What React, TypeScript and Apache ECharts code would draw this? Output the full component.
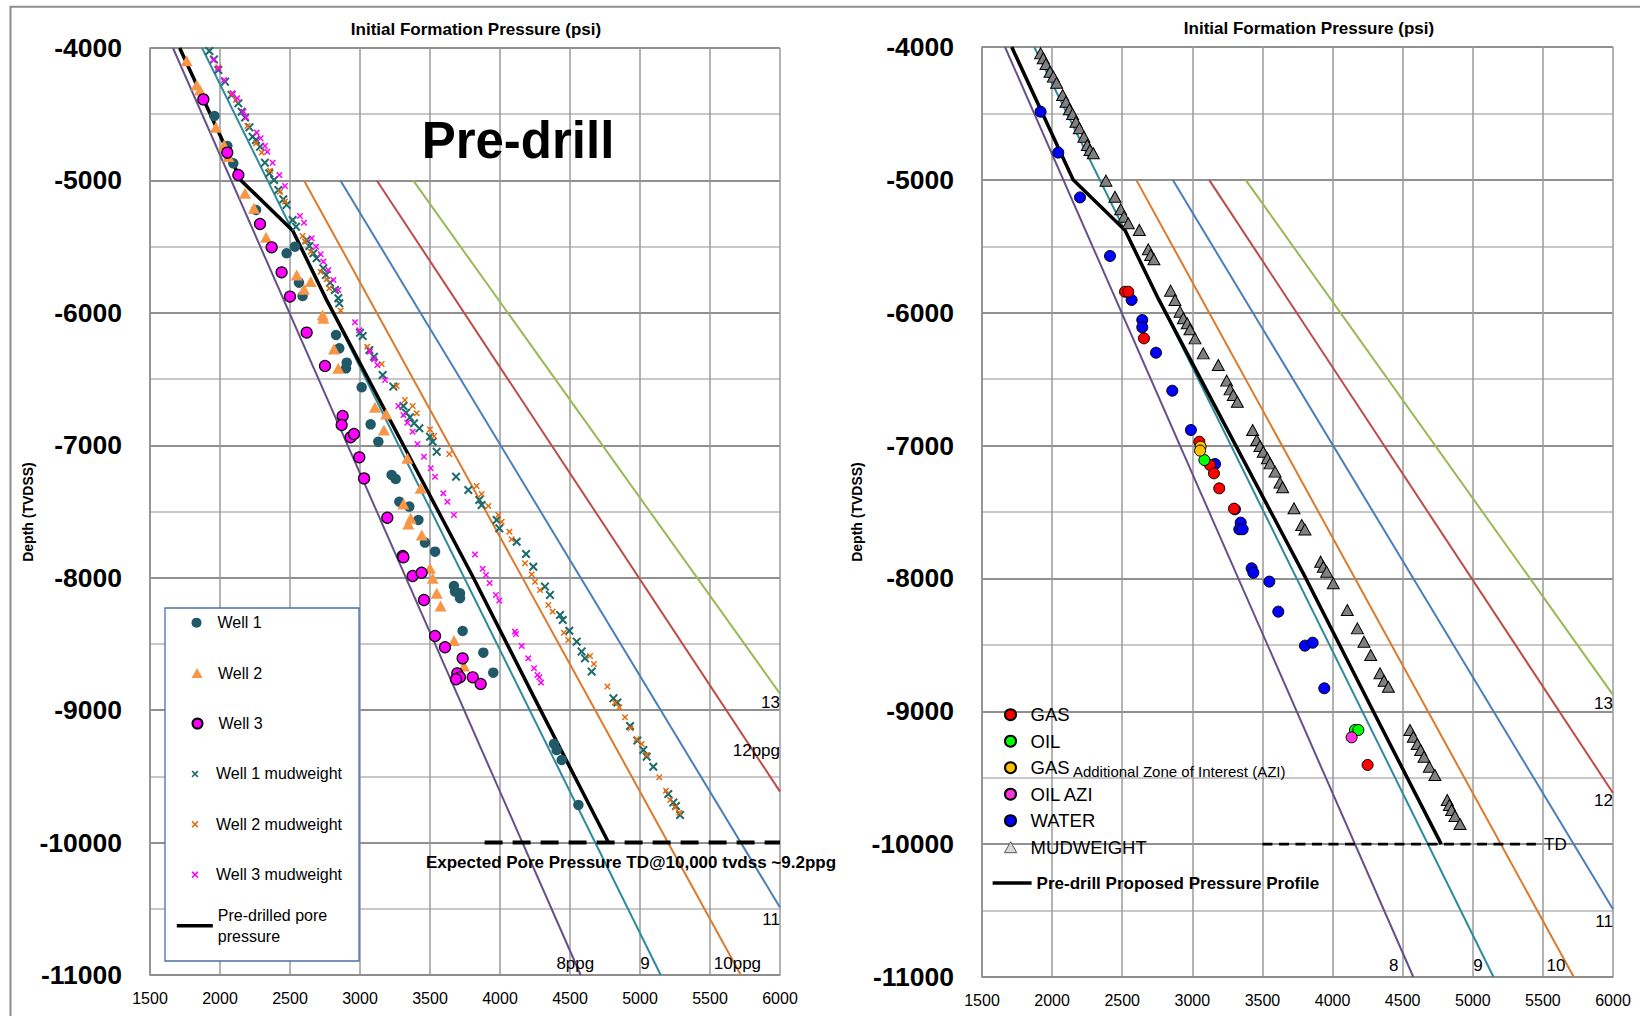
import React, { useEffect, useRef } from "react";
import * as echarts from "echarts";

const FONT = '"Liberation Sans", Arial, sans-serif';

// ---------- gradient reference lines (psi, depth) ----------
const PPG_8 = [[1664, -4000], [4576, -11000]];
const PPG_9 = [[1872, -4000], [5148, -11000]];
const PPG_10 = [[2600, -5000], [5720, -11000]];
const PPG_11 = [[2860, -5000], [6000, -10490]];
const PPG_12 = [[3120, -5000], [6000, -9615]];
const PPG_13 = [[3380, -5000], [6000, -8876]];
const PPG_SERIES = [PPG_8, PPG_9, PPG_10, PPG_11, PPG_12, PPG_13];
const PPG_COLORS = ["#66508A", "#2F8A9C", "#DB7A2C", "#4A7EBB", "#BE4B48", "#98B954"];

const LEFT_LINE_LABELS = ["13", "12ppg", "11", "8ppg", "9", "10ppg"];
const LEFT_LINE_LABEL_AT = [[6000, -8946], [6000, -9301], [6000, -10584], [4538, -10912], [5035, -10912], [5696, -10912]];
const RIGHT_LINE_LABELS = ["13", "12", "11", "8", "9", "10"];
const RIGHT_LINE_LABEL_AT = [[6000, -8945], [6000, -9668], [6000, -10584], [4436, -10910], [5037, -10910], [5593, -10910]];
const LINE_LABEL_ALIGN = ["right", "right", "right", "center", "center", "center"];

// ---------- pre-drill pore pressure profile ----------
const PORE_PROFILE = [[1712, -4000], [2150, -5000], [2520, -5380], [2760, -5900], [3310, -7000], [3810, -8000], [4290, -9000], [4775, -10000]];
const TD_LEFT = [[3890, -10000], [6000, -10000]];
const TD_RIGHT = [[3500, -10000], [5450, -10000]];

// ---------- left panel wells ----------
const WELL1 = [[1960, -4513], [2052, -4740], [2095, -4871], [2257, -5223], [2476, -5550], [2536, -5500], [2564, -5772], [2590, -5873], [2829, -6167], [2852, -6268], [2905, -6376], [2900, -6419], [3012, -6562], [3076, -6842], [3131, -6973], [3226, -7224], [3255, -7255], [3281, -7426], [3352, -7463], [3417, -7564], [3464, -7735], [3536, -7803], [3671, -8063], [3679, -8105], [3714, -8118], [3714, -8155], [3733, -8402], [3881, -8566], [3952, -8717], [4386, -9255], [4405, -9301], [4441, -9376], [4560, -9716]];
const WELL2 = [[1762, -4096], [1833, -4279], [1857, -4317], [1971, -4599], [2029, -4732], [2060, -4820], [2179, -5097], [2243, -5211], [2329, -5430], [2548, -5714], [2600, -5822], [2648, -5764], [2733, -6016], [2738, -6041], [2814, -6273], [2845, -6419], [3107, -6713], [3186, -6764], [3171, -6884], [3338, -7098], [3433, -7325], [3310, -7443], [3362, -7551], [3345, -7594], [3441, -7677], [3500, -7929], [3519, -8004], [3548, -8118], [3576, -8213], [3671, -8475], [3743, -8666]];
const WELL3 = [[1881, -4388], [2052, -4790], [2131, -4959], [2286, -5329], [2369, -5505], [2440, -5694], [2500, -5877], [2619, -6149], [2750, -6401], [2876, -6779], [2869, -6847], [2933, -6940], [2957, -6915], [2995, -7091], [3029, -7250], [3195, -7547], [3305, -7836], [3310, -7846], [3376, -7987], [3440, -7962], [3457, -8168], [3536, -8440], [3607, -8525], [3733, -8609], [3695, -8722], [3714, -8752], [3686, -8767], [3805, -8752], [3862, -8802]];
const WELL1_MW = [[1924, -4023], [1957, -4086], [1988, -4166], [2036, -4254], [2083, -4355], [2131, -4418], [2155, -4481], [2179, -4524], [2210, -4599], [2233, -4670], [2257, -4695], [2286, -4745], [2321, -4866], [2352, -4946], [2386, -4997], [2417, -5072], [2452, -5143], [2476, -5185], [2519, -5299], [2543, -5349], [2619, -5450], [2638, -5495], [2667, -5550], [2690, -5588], [2738, -5664], [2757, -5714], [2786, -5772], [2821, -5827], [2845, -5890], [2852, -5928], [3000, -6150], [3019, -6175], [3067, -6280], [3100, -6331], [3162, -6469], [3238, -6557], [3310, -6703], [3329, -6754], [3357, -6789], [3386, -6834], [3424, -6872], [3500, -6935], [3519, -6973], [3548, -7048], [3686, -7237], [3774, -7338], [3852, -7413], [3869, -7451], [3976, -7564], [3995, -7627], [4119, -7728], [4186, -7821], [4238, -7917], [4321, -8067], [4357, -8130], [4429, -8281], [4448, -8319], [4495, -8400], [4548, -8483], [4583, -8558], [4607, -8609], [4655, -8709], [4810, -8911], [4838, -8943], [4929, -9120], [4981, -9230], [5024, -9301], [5048, -9351], [5095, -9427], [5202, -9633], [5238, -9698], [5257, -9724], [5286, -9792]];
const WELL2_MW = [[1988, -4146], [2083, -4347], [2114, -4393], [2195, -4589], [2257, -4720], [2298, -4790], [2357, -4926], [2429, -5085], [2464, -5160], [2590, -5420], [2607, -5462], [2648, -5538], [2719, -5689], [2762, -5747], [2781, -5815], [2862, -5983], [3052, -6255], [3155, -6386], [3262, -6552], [3321, -6658], [3376, -6703], [3405, -6759], [3500, -6880], [3529, -6930], [3638, -7066], [3833, -7307], [3869, -7368], [3917, -7458], [3988, -7526], [4012, -7577], [4067, -7652], [4083, -7710], [4179, -7891], [4226, -7975], [4250, -8030], [4286, -8093], [4345, -8206], [4376, -8256], [4457, -8415], [4488, -8470], [4643, -8591], [4671, -8651], [4767, -8822], [4821, -8943], [4852, -8979], [4893, -9054], [4933, -9137], [4976, -9220], [5012, -9255], [5048, -9338], [5138, -9507], [5186, -9608], [5215, -9678], [5250, -9734], [5281, -9774]];
const WELL3_MW = [[1952, -4091], [1988, -4154], [2029, -4242], [2090, -4342], [2124, -4380], [2167, -4481], [2186, -4524], [2262, -4639], [2290, -4682], [2321, -4740], [2338, -4783], [2376, -4866], [2424, -4959], [2464, -5042], [2571, -5269], [2600, -5319], [2655, -5437], [2686, -5500], [2719, -5558], [2738, -5613], [2774, -5676], [2810, -5752], [2845, -5827], [2964, -6070], [2995, -6132], [3071, -6293], [3100, -6351], [3124, -6394], [3179, -6507], [3274, -6703], [3310, -6771], [3338, -6829], [3376, -6897], [3410, -6990], [3457, -7086], [3505, -7174], [3536, -7237], [3595, -7363], [3624, -7426], [3671, -7526], [3821, -7825], [3876, -7932], [3900, -7979], [3926, -8040], [3971, -8130], [3995, -8173], [4107, -8407], [4114, -8425], [4155, -8515], [4202, -8609], [4243, -8684], [4267, -8734], [4281, -8752], [4293, -8792]];

// ---------- right panel ----------
const GAS = [[2520, -5842], [2543, -5842], [2655, -6193], [3050, -6971], [3126, -7146], [3154, -7209], [3192, -7322], [3297, -7475], [4250, -9404]];
const OIL = [[3086, -7109], [4160, -9141], [4184, -9141]];
const GAS_AZI = [[3059, -7008], [3055, -7038]];
const OIL_AZI = [[4136, -9196]];
const WATER = [[1918, -4487], [2044, -4795], [2199, -5132], [2413, -5573], [2567, -5904], [2643, -6055], [2643, -6110], [2741, -6301], [2857, -6587], [2990, -6883], [3162, -7139], [3304, -7480], [3345, -7580], [3335, -7630], [3359, -7630], [3423, -7924], [3435, -7957], [3549, -8024], [3613, -8250], [3803, -8506], [3858, -8484], [3941, -8827]];
const MUDWEIGHT = [[1918, -4048], [1937, -4085], [1956, -4128], [1985, -4186], [2009, -4223], [2032, -4269], [2075, -4361], [2099, -4412], [2123, -4469], [2146, -4504], [2170, -4562], [2194, -4612], [2227, -4675], [2251, -4738], [2270, -4775], [2294, -4800], [2384, -5006], [2448, -5127], [2489, -5222], [2513, -5277], [2543, -5327], [2622, -5377], [2686, -5523], [2703, -5566], [2726, -5598], [2845, -5834], [2876, -5904], [2912, -5992], [2936, -6042], [2964, -6080], [2983, -6125], [3019, -6193], [3078, -6306], [3185, -6394], [3245, -6511], [3269, -6577], [3292, -6619], [3321, -6670], [3430, -6883], [3459, -6958], [3482, -7003], [3506, -7046], [3535, -7096], [3554, -7134], [3590, -7196], [3625, -7279], [3644, -7314], [3725, -7472], [3780, -7598], [3803, -7631], [3915, -7874], [3934, -7912], [3958, -7949], [4005, -8037], [4105, -8238], [4177, -8376], [4224, -8476], [4272, -8577], [4338, -8714], [4367, -8770], [4398, -8815], [4552, -9141], [4576, -9191], [4604, -9246], [4628, -9292], [4652, -9342], [4690, -9417], [4730, -9480], [4818, -9668], [4833, -9706], [4849, -9743], [4873, -9788], [4909, -9849]];

const LEFT_NAMES = ["Well 1", "Well 2", "Well 3", "Well 1 mudweight", "Well 2 mudweight", "Well 3 mudweight"];
const LEFT_LINE_NAME = "Pre-drilled pore pressure";
const RIGHT_NAMES = ["GAS", "OIL", "GAS AZI", "OIL AZI", "WATER", "MUDWEIGHT"];
const RIGHT_LINE_NAME = "Pre-drill Proposed Pressure Profile";

const X_SYMBOL = "path://M0,1.6L1.6,0L5,3.4L8.4,0L10,1.6L6.6,5L10,8.4L8.4,10L5,6.6L1.6,10L0,8.4L3.4,5Z";
const TRI_SYMBOL = "path://M5,0L10,9L0,9Z";

function mkX(g: number) {
  return {
    type: "value", gridIndex: g, min: 1500, max: 6000, interval: 500,
    axisLine: { show: true, onZero: false, lineStyle: { color: "#8c8c8c", width: 1.5 } },
    axisTick: { show: false },
    axisLabel: { fontSize: 16, color: "#000", fontFamily: FONT, margin: 15, showMinLabel: true, showMaxLabel: true, formatter: (v: number) => String(v) },
    splitLine: { show: true, lineStyle: { color: "#9a9a9a", width: 1.5 } },
  };
}
function mkY(g: number) {
  return {
    type: "value", gridIndex: g, min: -11000, max: -4000, interval: 1000,
    axisLine: { show: true, onZero: false, lineStyle: { color: "#8c8c8c", width: 1.5 } },
    axisTick: { show: false },
    axisLabel: { fontSize: 26.5, fontWeight: "bold", color: "#000", fontFamily: FONT, margin: 28, formatter: (v: number) => String(v) },
    splitLine: { show: true, lineStyle: { color: "#909090", width: 2 } },
    minorTick: { show: false, splitNumber: 2 },
    minorSplitLine: { show: true, lineStyle: { color: "#c8c8c8", width: 2 } },
  };
}

function scatter(name: string, g: number, data: number[][], symbol: string, size: any, style: any) {
  return {
    type: "scatter", name, xAxisIndex: g, yAxisIndex: g, data, symbol, symbolSize: size,
    itemStyle: { opacity: 1, ...style }, z: 3,
  };
}

export default function App() {
  const ref = useRef<HTMLDivElement>(null);
  useEffect(() => {
    if (!ref.current) return;
    const chart = echarts.init(ref.current, null, { renderer: "svg" });
    const series: any[] = [];
    [0, 1].forEach((g) => {
      PPG_SERIES.forEach((d, i) => {
        series.push({ type: "line", name: "ppg" + g + "_" + i, xAxisIndex: g, yAxisIndex: g, data: d, symbol: "none", silent: true, lineStyle: { color: PPG_COLORS[i], width: 2 }, z: 2 });
      });
      series.push({ type: "line", name: g === 0 ? LEFT_LINE_NAME : RIGHT_LINE_NAME, xAxisIndex: g, yAxisIndex: g, data: PORE_PROFILE, symbol: "none", lineStyle: { color: "#000", width: 3.5 }, itemStyle: { color: "#000" }, z: 2 });
      series.push({ type: "line", name: "td" + g, xAxisIndex: g, yAxisIndex: g, data: g === 0 ? TD_LEFT : TD_RIGHT, symbol: "none", silent: true, lineStyle: { color: "#000", width: g === 0 ? 4 : 2.8, type: g === 0 ? [18, 10] : [10, 6.5] }, z: 2 });
    });
    series.push(scatter("Well 1", 0, WELL1, "circle", 10.5, { color: "#215968" }));
    series.push(scatter("Well 2", 0, WELL2, TRI_SYMBOL, [12, 11], { color: "#F79646" }));
    series.push(scatter("Well 3", 0, WELL3, "circle", 11, { color: "#FF00FF", borderColor: "#000", borderWidth: 1.2 }));
    series.push(scatter("Well 1 mudweight", 0, WELL1_MW, X_SYMBOL, 9, { color: "#1D6B6B" }));
    series.push(scatter("Well 2 mudweight", 0, WELL2_MW, X_SYMBOL, 6.5, { color: "#E46C0A" }));
    series.push(scatter("Well 3 mudweight", 0, WELL3_MW, X_SYMBOL, 6.5, { color: "#FF00FF" }));
    series.push(scatter("MUDWEIGHT", 1, MUDWEIGHT, TRI_SYMBOL, [12, 11], { color: "#808080", borderColor: "#000", borderWidth: 1 }));
    series.push(scatter("WATER", 1, WATER, "circle", 11, { color: "#0000FF", borderColor: "#000", borderWidth: 1 }));
    series.push(scatter("GAS", 1, GAS, "circle", 11, { color: "#FF0000", borderColor: "#000", borderWidth: 1 }));
    series.push(scatter("OIL", 1, OIL, "circle", 11, { color: "#00FF00", borderColor: "#000", borderWidth: 1 }));
    series.push(scatter("GAS AZI", 1, GAS_AZI, "circle", 11, { color: "#FFC000", borderColor: "#000", borderWidth: 1 }));
    series.push(scatter("OIL AZI", 1, OIL_AZI, "circle", 11, { color: "#FF33DD", borderColor: "#000", borderWidth: 1 }));

    const legends: any[] = [];
    LEFT_NAMES.forEach((name, i) => {
      const cy = 622.7 + i * 50.4;
      legends.push({
        data: [name], orient: "vertical", left: 191.5, top: cy - 10, padding: 0,
        itemWidth: 32, itemHeight: i >= 3 ? 7 : 10,
        textStyle: { fontSize: 16, lineHeight: 20, color: "#000", fontFamily: FONT },
      });
    });
    legends.push({
      data: [{ name: LEFT_LINE_NAME, icon: "rect", itemStyle: { color: "#000", borderWidth: 0 } }],
      orient: "vertical", left: 176.8, top: 925.7 - 31.5, padding: 0,
      itemWidth: 36, itemHeight: 3.5,
      formatter: () => "Pre-drilled pore\npressure",
      textStyle: { fontSize: 16, lineHeight: 21, color: "#000", fontFamily: FONT, padding: [21, 0, 0, 0] },
    });
    RIGHT_NAMES.forEach((name, i) => {
      const cy = 714.7 + i * 26.5;
      legends.push({
        data: name === "MUDWEIGHT" ? [{ name, itemStyle: { color: "#d9d9d9", borderColor: "#555", borderWidth: 1 } }] : [name],
        orient: "vertical", left: 1004, top: cy - 11, padding: 0,
        itemWidth: 30, itemHeight: 11,
        formatter: (n: string) => (n === "GAS AZI" ? "{a|GAS}{b| Additional Zone of Interest (AZI)}" : n),
        textStyle: {
          fontSize: 18.5, lineHeight: 22, color: "#000", fontFamily: FONT,
          rich: {
            a: { fontSize: 18.5, lineHeight: 22, fontFamily: FONT, color: "#000" },
            b: { fontSize: 15, lineHeight: 22, fontFamily: FONT, color: "#000", verticalAlign: "bottom", padding: [3, 0, 0, 0] },
          },
        },
      });
    });
    legends.push({
      data: [{ name: RIGHT_LINE_NAME, icon: "rect", itemStyle: { color: "#000", borderWidth: 0 } }],
      orient: "vertical", left: 992.6, top: 883 - 11, padding: 0,
      itemWidth: 39, itemHeight: 3.5,
      textStyle: { fontSize: 17, fontWeight: "bold", lineHeight: 22, color: "#000", fontFamily: FONT },
    });

    chart.setOption({
      animation: false,
      backgroundColor: "#fff",
      grid: [
        { left: 150, top: 48, width: 630, height: 927 },
        { left: 982, top: 47, width: 631, height: 930 },
      ],
      xAxis: [mkX(0), mkX(1)],
      yAxis: [mkY(0), mkY(1)],
      legend: legends,
      series,
    });

    const px = (g: number, p: number[]) => chart.convertToPixel({ gridIndex: g } as any, p) as number[];
    const txt = (p: number[], text: string, style: any, extra: any = {}) => ({
      type: "text", x: p[0], y: p[1], z: 10, ...extra,
      style: { text, fontFamily: FONT, fill: "#000", align: "left", verticalAlign: "middle", ...style },
    });
    const els: any[] = [
      { type: "line", z: 10, shape: { x1: 10, y1: 6.7, x2: 1640, y2: 6.7 }, style: { stroke: "#8c8c8c", lineWidth: 2 } },
      { type: "line", z: 10, shape: { x1: 10.5, y1: 6, x2: 10.5, y2: 1016 }, style: { stroke: "#8c8c8c", lineWidth: 2 } },
      { type: "rect", z: 3, shape: { x: 165, y: 608, width: 194, height: 353 }, style: { fill: "#fff", stroke: "#4A6FA5", lineWidth: 1.3 } },
      txt([476, 29], "Initial Formation Pressure (psi)", { fontSize: 17, fontWeight: "bold", align: "center" }),
      txt([1309, 28], "Initial Formation Pressure (psi)", { fontSize: 17, fontWeight: "bold", align: "center" }),
      txt([518, 140], "Pre-drill", { fontSize: 51, fontWeight: "bold", align: "center" }),
      txt([28, 512], "Depth (TVDSS)", { fontSize: 14, fontWeight: "bold", align: "center" }, { rotation: Math.PI / 2 }),
      txt([857, 512], "Depth (TVDSS)", { fontSize: 14, fontWeight: "bold", align: "center" }, { rotation: Math.PI / 2 }),
      txt(px(0, [3471, -10152]), "Expected Pore Pressure TD@10,000 tvdss ~9.2ppg", { fontSize: 17, fontWeight: "bold" }),
      txt(px(1, [5508, -10000]), "TD", { fontSize: 17 }),
    ];
    LEFT_LINE_LABELS.forEach((t, i) => els.push(txt(px(0, LEFT_LINE_LABEL_AT[i]), t, { fontSize: 17, align: LINE_LABEL_ALIGN[i] })));
    RIGHT_LINE_LABELS.forEach((t, i) => els.push(txt(px(1, RIGHT_LINE_LABEL_AT[i]), t, { fontSize: 17, align: LINE_LABEL_ALIGN[i] })));
    chart.setOption({ graphic: els });

    return () => chart.dispose();
  }, []);
  return <div ref={ref} style={{ position: "absolute", left: 0, top: 0, width: 1640, height: 1016 }} />;
}
